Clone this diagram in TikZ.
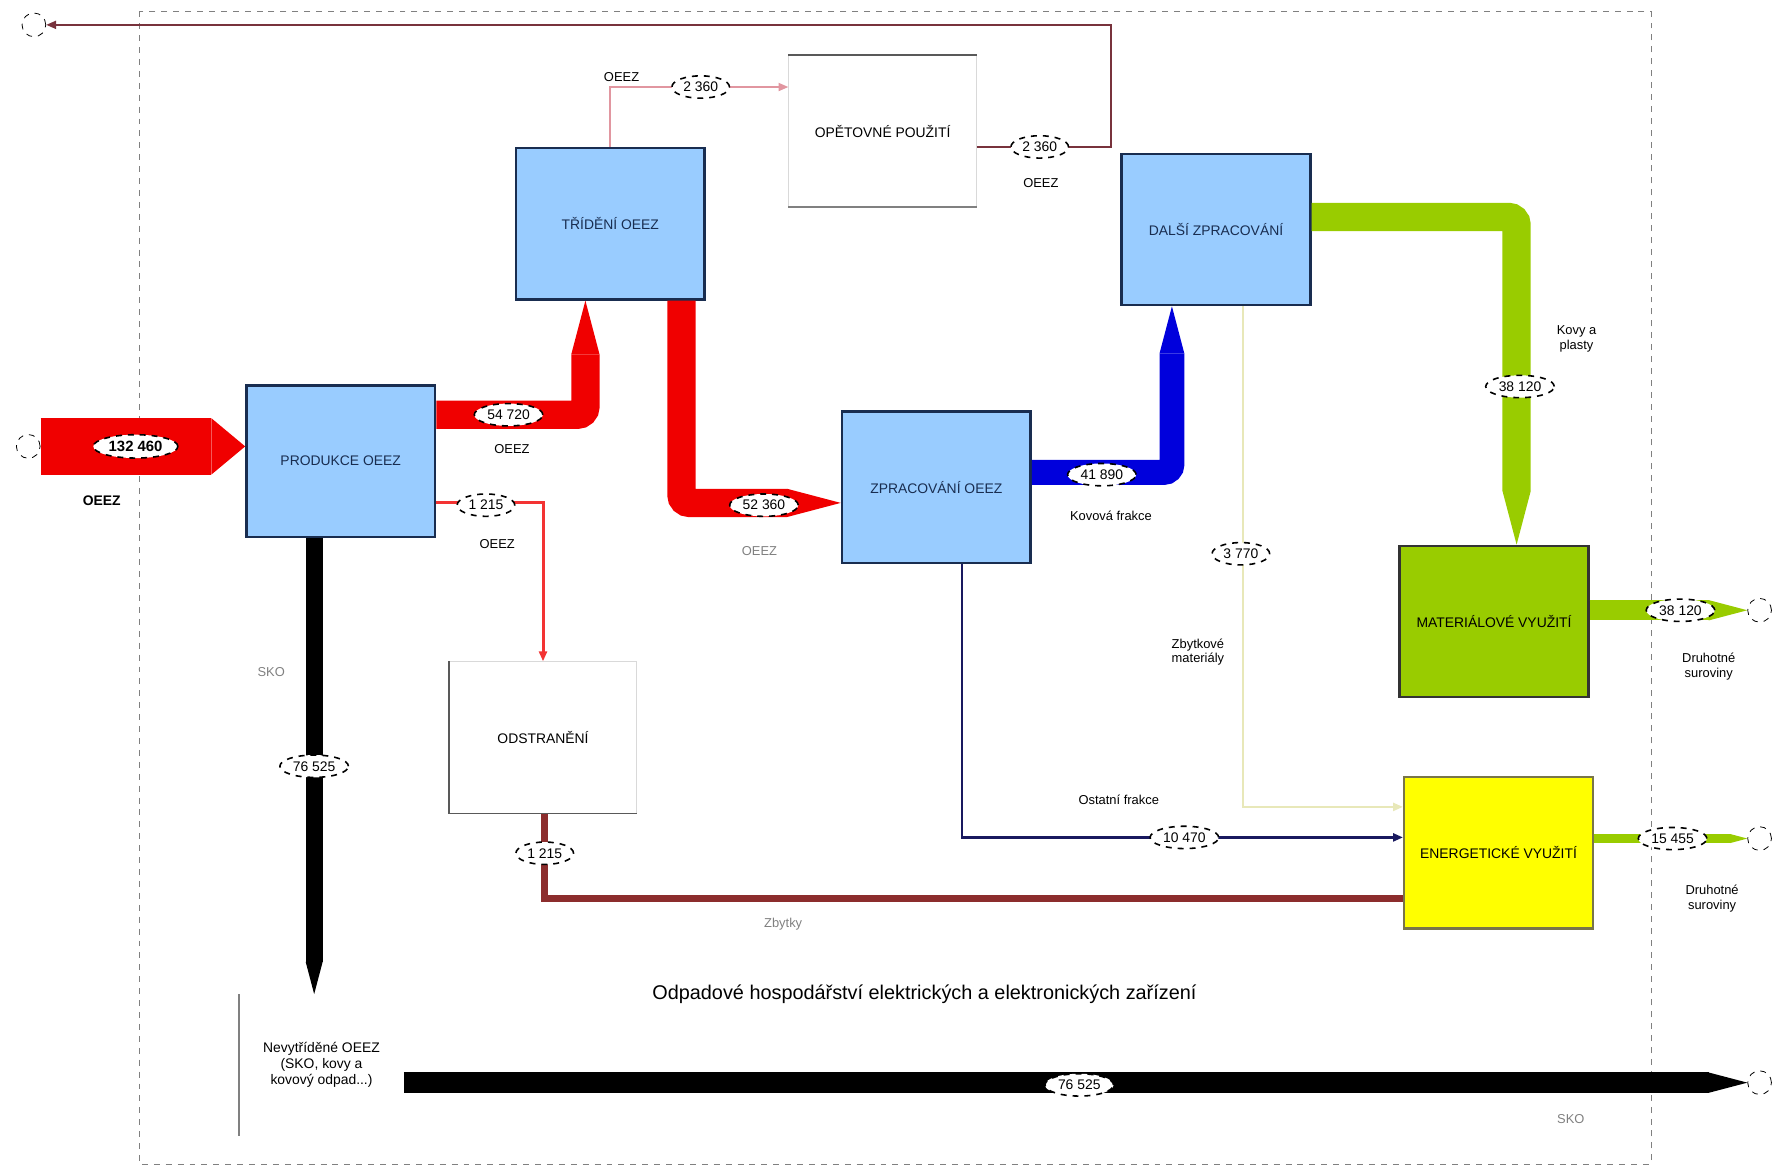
\documentclass[tikz,border=0pt]{standalone}
\usepackage{fontspec}
\setmainfont{Liberation Sans}
\usetikzlibrary{arrows.meta,shapes.geometric}
\definecolor{boxblue}{RGB}{153,204,255}
\definecolor{boxedge}{RGB}{25,45,80}
\definecolor{flowred}{RGB}{240,0,0}
\definecolor{flowblue}{RGB}{0,0,220}
\definecolor{flowgreen}{RGB}{153,204,0}
\definecolor{boxyellow}{RGB}{255,255,0}
\definecolor{darkred}{RGB}{140,45,45}
\definecolor{navyline}{RGB}{25,25,95}
\definecolor{paleline}{RGB}{232,232,185}
\definecolor{pinkline}{RGB}{225,150,160}
\definecolor{topline}{RGB}{120,50,60}

\begin{document}
\begin{tikzpicture}[x=0.02cm, y=-0.02cm, font=\fontsize{7}{8}\selectfont,
    proc/.style={draw=boxedge, line width=1.2pt, fill=boxblue, text=boxedge, minimum width=3.34cm, minimum height=2.68cm, inner sep=2pt},
    plain/.style={draw=gray!30, fill=white, minimum width=3.32cm, minimum height=2.68cm, inner sep=2pt},
    val/.style={ellipse, draw, dashed, thick, fill=white, inner sep=1.5pt, font=\fontsize{7}{8}\selectfont},
    term/.style={circle, draw, dashed, minimum size=0.42cm, inner sep=0pt},
    lbl/.style={font=\fontsize{6.5}{7.5}\selectfont, align=center},
    fatflow/.style={-{Triangle[length=0pt 1.9, width=0pt 1, line width=0pt]}, rounded corners=4pt},
    slimflow/.style={-{Triangle[length=5pt, width=4pt]}}]
        \useasboundingbox (0,0) rectangle (1568,1034);
        \draw[gray, dashed] (123,10) rectangle (1461,1030);

        % processes
        \node[proc] (prod) at (301.5,408) {PRODUKCE OEEZ};
        \node[proc] (trid) at (540,198) {TŘÍDĚNÍ OEEZ};
        \node[plain] (reuse) at (781,116) {OPĚTOVNÉ POUŽITÍ};
        \node[proc] (recy) at (1076,203) {DALŠÍ ZPRACOVÁNÍ};
        \node[proc] (zprac) at (828.5,431) {ZPRACOVÁNÍ OEEZ};
        \node[proc, fill=flowgreen, draw=black!80, text=black] (mat) at (1322,550) {MATERIÁLOVÉ VYUŽITÍ};
        \node[plain] (odstr) at (480.5,652.5) {ODSTRANĚNÍ};
        \node[proc, fill=boxyellow, draw=black!60!yellow, text=black] (ener) at (1326,754.5) {ENERGETICKÉ VYUŽITÍ};
        \node[minimum width=2.9cm, minimum height=2.5cm, align=center, inner sep=2pt] (nesb) at (284.5,942.5) {Nevytříděné OEEZ\\(SKO, kovy a\\kovový odpad...)};
        \draw[gray!70!black, line width=1.2pt] (reuse.north west) -- (reuse.north east);
        \draw[gray, line width=1.2pt] (reuse.south west) -- (reuse.south east);
        \draw[gray!70!black, line width=1pt] (odstr.north west) -- (odstr.south west) -- (odstr.south east);
        \draw[gray, line width=0.8pt] (nesb.north west) -- (nesb.south west);

        % import / export
        \node[term] (in1) at (25,395) {};
        \node[term] (out1) at (30,22) {};
        \node[term] (out2) at (1557,540) {};
        \node[term] (out3) at (1557,742) {};
        \node[term] (out4) at (1557,958) {};

        % flows
        \draw[flowred, line width=1cm, -{Triangle[length=0pt 0.6, width=0pt 1, line width=0pt]}] (in1.east) -- (prod.west |- in1);
        \draw[flowred, line width=0.5cm, fatflow] (prod.east |- 0,367) -| (trid.south -| 518,0);
        \draw[flowred, line width=0.5cm, fatflow] (trid.south -| 603,0) |- (zprac.west |- 0,445);
        \draw[pinkline, line width=1pt, slimflow] (trid.north) |- (reuse.west |- 0,77);
        \draw[topline, line width=1pt, slimflow] (reuse.east |- 0,130) -- (983,130) |- (out1.east);
        \draw[flowred!80, line width=1.5pt, slimflow] (prod.east |- 0,445) -| (odstr.north);
        \draw[black, line width=0.3cm, fatflow] (prod.south -| 278,0) -- (nesb.north -| 278,0);
        \draw[black, line width=0.36cm, fatflow] (nesb.east |- out4) -- (out4.west);
        \draw[flowblue, line width=0.44cm, fatflow] (zprac.east |- 0,418) -| (recy.south -| 1037,0);
        \draw[navyline, line width=1.2pt, slimflow] (zprac.south -| 851,0) |- (ener.west |- 0,741);
        \draw[paleline, line width=1.2pt, slimflow] (recy.south -| 1100,0) |- (ener.west |- 0,714);
        \draw[flowgreen, line width=0.5cm, fatflow] (recy.east |- 0,192) -| (mat.north -| 1342,0);
        \draw[flowgreen, line width=0.36cm, fatflow] (mat.east |- out2) -- (out2.west);
        \draw[flowgreen, line width=0.16cm, fatflow] (ener.east |- out3) -- (out3.west);
        \draw[darkred, line width=0.12cm] (odstr.south -| 482,0) |- (ener.west |- 0,795);

        % flow values
        \node[val, font=\fontsize{7.5}{8.5}\selectfont\bfseries] (v1) at (120,395) {132 460};
        \node[val] (v2) at (450,367) {54 720};
        \node[val] (v3) at (676,447) {52 360};
        \node[val] (v4) at (620,77) {2 360};
        \node[val] (v5) at (920,130) {2 360};
        \node[val] (v6) at (430,447) {1 215};
        \node[val] (v7) at (278,678) {76 525};
        \node[val] (v8) at (955,960) {76 525};
        \node[val] (v9) at (975,420) {41 890};
        \node[val] (v10) at (1048,741) {10 470};
        \node[val] (v11) at (1098,490) {3 770};
        \node[val] (v12) at (1345,342) {38 120};
        \node[val] (v13) at (1487,540) {38 120};
        \node[val] (v14) at (1480,742) {15 455};
        \node[val] (v15) at (482,755) {1 215};

        % flow names
        \node[font=\fontsize{7}{8}\selectfont\bfseries] (l1) at (90,443) {OEEZ};
        \node[lbl] (l2) at (453,397) {OEEZ};
        \node[lbl, gray] (l3) at (672,488) {OEEZ};
        \node[lbl] (l4) at (550,68) {OEEZ};
        \node[lbl] (l5) at (921,162) {OEEZ};
        \node[lbl] (l6) at (440,481) {OEEZ};
        \node[lbl, gray] (l7) at (240,595) {SKO};
        \node[lbl, gray] (l8) at (1390,990) {SKO};
        \node[lbl] (l9) at (983,456) {Kovová frakce};
        \node[lbl] (l10) at (990,708) {Ostatní frakce};
        \node[lbl] (l11) at (1060,577) {Zbytkové\\materiály};
        \node[lbl] (l12) at (1395,300) {Kovy a\\plasty};
        \node[lbl] (l13) at (1512,590) {Druhotné\\suroviny};
        \node[lbl] (l14) at (1515,795) {Druhotné\\suroviny};
        \node[lbl, gray] (l15) at (693,818) {Zbytky};
        \node[font=\fontsize{10}{12}\selectfont] (title) at (818,880) {Odpadové hospodářství elektrických a elektronických zařízení};
\end{tikzpicture}
\end{document}
